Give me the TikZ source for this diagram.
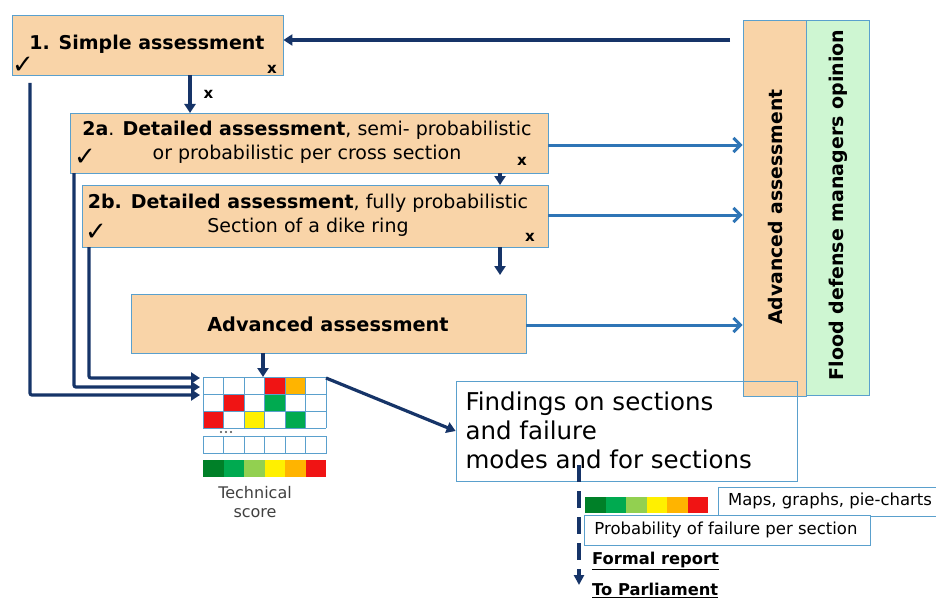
\documentclass[tikz,border=0pt]{standalone}
\usepackage{fontspec}
\setmainfont{DejaVu Sans}
\usetikzlibrary{arrows.meta}
\definecolor{tan}{RGB}{249,212,168}
\definecolor{mint}{RGB}{206,246,210}
\definecolor{edge}{RGB}{90,160,205}
\definecolor{navy}{RGB}{22,52,104}
\definecolor{sky}{RGB}{46,117,182}
\definecolor{dgreen}{RGB}{0,128,40}
\definecolor{mgreen}{RGB}{0,170,80}
\definecolor{lgreen}{RGB}{146,208,80}
\definecolor{yel}{RGB}{255,240,0}
\definecolor{ora}{RGB}{255,180,0}
\definecolor{rd}{RGB}{240,20,20}
\tikzset{
  stagebox/.style={draw=edge, line width=0.8pt, fill=tan, inner sep=0pt},
  sidebox/.style={draw=edge, line width=0.8pt, inner sep=0pt},
  plainbox/.style={draw=edge, line width=0.8pt, fill=white, inner sep=0pt},
  darrow/.style={draw=navy, line width=3.2pt, -{Triangle[length=9pt,width=11pt]}},
  barrow/.style={draw=sky, line width=3pt, -{Straight Barb[length=7pt,width=14pt,line width=3pt]}},
  tickmark/.style={inner sep=0pt, font=\fontsize{26}{26}\selectfont\bfseries},
  crossmark/.style={inner sep=0pt, font=\fontsize{15}{15}\selectfont\bfseries},
  cell/.style={draw=edge, line width=0.7pt}
}
\begin{document}
\begin{tikzpicture}[x=1pt,y=-1pt]
\useasboundingbox (0,0) rectangle (936,599);

% side columns
\node[sidebox, fill=tan, minimum width=63pt, minimum height=376pt] (adv2) at (774.5,208) {};
\node[sidebox, fill=mint, minimum width=63pt, minimum height=375pt] (flood) at (837.5,207.5) {};
\node[rotate=90, font=\fontsize{18.8}{18.8}\selectfont\bfseries] at (775,207) {Advanced assessment};
\node[rotate=90, font=\fontsize{19}{19}\selectfont\bfseries] at (838,205) {Flood defense managers opinion};

% assessment stages
\node[stagebox, minimum width=271pt, minimum height=60pt] (s1) at (147.5,45) {};
\node[font=\fontsize{19}{19}\selectfont\bfseries] at (147,44) {1. Simple assessment};
\node[tickmark] at (23,65) {✓};
\node[crossmark] at (272,69) {x};

\node[stagebox, minimum width=478pt, minimum height=60pt] (s2a) at (309,143) {};
\node[align=center, font=\fontsize{19}{24}\selectfont] at (307,142)
  {\textbf{2a}. \textbf{Detailed assessment}, semi- probabilistic\\or probabilistic per cross section};
\node[tickmark] at (85,157) {✓};
\node[crossmark] at (522,161) {x};

\node[stagebox, minimum width=466pt, minimum height=62pt] (s2b) at (315,216) {};
\node[align=center, font=\fontsize{19}{24}\selectfont] at (308,215)
  {\textbf{2b. Detailed assessment}, fully probabilistic\\Section of a dike ring};
\node[tickmark] at (96,232) {✓};
\node[crossmark] at (530,237) {x};

\node[stagebox, minimum width=395pt, minimum height=59pt] (s3) at (328.5,323.5) {};
\node[font=\fontsize{19.3}{19.3}\selectfont\bfseries] at (328,324) {Advanced assessment};

% technical score grid
\node[minimum width=123pt, minimum height=51pt, inner sep=0pt] (grid) at (264.5,402.5) {};
\foreach \c/\r/\col in {4/1/rd,5/1/ora,2/2/rd,4/2/mgreen,1/3/rd,3/3/yel,5/3/mgreen}
  \fill[\col] ({203+(\c-1)*20.5},{377+(\r-1)*17}) rectangle ++(20.5,17);
\foreach \c in {0,...,6} \draw[cell] ({203+\c*20.5},377) -- ({203+\c*20.5},428);
\foreach \r in {0,...,3} \draw[cell] (203,{377+\r*17}) -- (326,{377+\r*17});
\foreach \d in {0,1,2} \fill[black!70] ({221+\d*5},432) circle (1.1pt);
\foreach \c in {0,...,5} \draw[cell] ({203+\c*20.5},436) rectangle ++(20.5,17);
\foreach \c/\col in {0/dgreen,1/mgreen,2/lgreen,3/yel,4/ora,5/rd}
  \fill[\col] ({203+\c*20.5},460) rectangle ++(20.5,17);
\node[align=center, text=black!75, font=\fontsize{16}{19}\selectfont] (tech) at (255,502) {Technical\\score};

% findings and reporting
\node[sidebox, minimum width=341pt, minimum height=100pt] (find) at (626.5,431) {};
\node[anchor=west, align=left, font=\fontsize{24.5}{29}\selectfont] at (462,430)
  {Findings on sections\\and failure\\modes and for sections};

\foreach \c/\col in {0/dgreen,1/mgreen,2/lgreen,3/yel,4/ora,5/rd}
  \fill[\col] ({585+\c*20.5},497) rectangle ++(20.5,16);
\node[plainbox, minimum width=218pt, minimum height=29pt] (maps) at (827,501.5) {};
\node[font=\fontsize{16.5}{16.5}\selectfont] at (830,501) {Maps, graphs, pie-charts};
\node[plainbox, minimum width=286pt, minimum height=30pt] (prob) at (727,530) {};
\node[font=\fontsize{16.5}{16.5}\selectfont] at (726,530) {Probability of failure per section};
\node[anchor=west, font=\fontsize{16.3}{16.3}\selectfont\bfseries, inner sep=0pt] (rep) at (592,561) {\underline{Formal report}};
\node[anchor=west, font=\fontsize{16.3}{16.3}\selectfont\bfseries, inner sep=0pt] (parl) at (592,590) {\underline{To Parliament}};

\coordinate (dtop) at (579,465);
\coordinate (dend) at (579,585);
\draw[navy, line width=3.2pt, dash pattern=on 17pt off 9pt, -{Triangle[length=10pt,width=10pt]}] (dtop) -- (dend);

% connectors
\coordinate (fb) at (730,40);
\draw[darrow] (fb) -- (s1.east |- fb);
\draw[darrow] (190,75) -- (190,113) node[midway, right=12pt, crossmark] {x};
\draw[darrow] (500,173) -- (500,185);
\coordinate (s2bout) at (500,275);
\draw[darrow] (500,247) -- (s2bout);
\draw[darrow] (263,353) -- (263,377);

\draw[darrow, rounded corners=2pt] (30,83) -- (30,395) -- (200,395);
\draw[darrow, rounded corners=2pt] (74,173) -- (74,387) -- (200,387);
\draw[darrow, rounded corners=2pt] (89,247) -- (89,378) -- (200,378);

\draw[darrow] (326,378) -- (find.west);

\draw[barrow] (548,145) -- (adv2.west |- 0,145);
\draw[barrow] (548,215) -- (adv2.west |- 0,215);
\draw[barrow] (526,325) -- (adv2.west |- 0,325);
\end{tikzpicture}
\end{document}
